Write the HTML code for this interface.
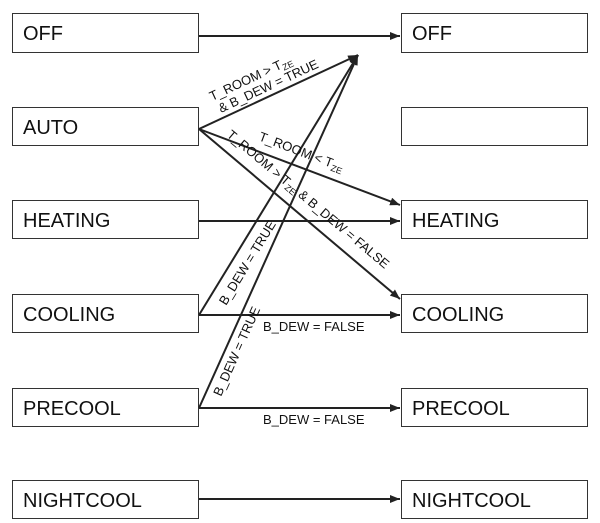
<!DOCTYPE html>
<html><head><style>body{margin:0;background:#fff}svg{display:block}</style></head><body>
<svg width="600" height="523" xmlns="http://www.w3.org/2000/svg" font-family="Liberation Sans, Arial, sans-serif">
<defs><marker id="a" markerWidth="10" markerHeight="8" refX="10" refY="4" orient="auto" markerUnits="userSpaceOnUse"><path d="M0,0 L10,4 L0,8 z" fill="#222"/></marker></defs>
<g fill="#fff" stroke="#333" stroke-width="1">
<rect x="12.5" y="13.5" width="186" height="39"/><rect x="401.5" y="13.5" width="186" height="39"/>
<rect x="12.5" y="107.5" width="186" height="38"/><rect x="401.5" y="107.5" width="186" height="38"/>
<rect x="12.5" y="200.5" width="186" height="38"/><rect x="401.5" y="200.5" width="186" height="38"/>
<rect x="12.5" y="294.5" width="186" height="38"/><rect x="401.5" y="294.5" width="186" height="38"/>
<rect x="12.5" y="388.5" width="186" height="38"/><rect x="401.5" y="388.5" width="186" height="38"/>
<rect x="12.5" y="480.5" width="186" height="38"/><rect x="401.5" y="480.5" width="186" height="38"/>
</g>
<g font-size="20" fill="#111">
<text x="23" y="40">OFF</text><text x="412" y="40">OFF</text>
<text x="23" y="134">AUTO</text>
<text x="23" y="227">HEATING</text><text x="412" y="227">HEATING</text>
<text x="23" y="321">COOLING</text><text x="412" y="321">COOLING</text>
<text x="23" y="415">PRECOOL</text><text x="412" y="415">PRECOOL</text>
<text x="23" y="507">NIGHTCOOL</text><text x="412" y="507">NIGHTCOOL</text>
</g>
<g stroke="#222" stroke-width="2" fill="none" marker-end="url(#a)">
<line x1="199" y1="36" x2="400" y2="36"/>
<line x1="199" y1="129" x2="358" y2="55"/>
<line x1="199" y1="129" x2="400" y2="205"/>
<line x1="199" y1="129" x2="400" y2="299"/>
<line x1="199" y1="221" x2="400" y2="221"/>
<line x1="199" y1="315" x2="400" y2="315"/>
<line x1="199" y1="315" x2="358" y2="55"/>
<line x1="199" y1="408" x2="358" y2="55"/>
<line x1="199" y1="408" x2="400" y2="408"/>
<line x1="199" y1="499" x2="400" y2="499"/>
</g>
<g font-size="13" fill="#111">
<text transform="translate(212,101) rotate(-25)">T_ROOM &gt; T<tspan font-size="9" dy="3">ZE</tspan></text>
<text transform="translate(221,113) rotate(-25)">&amp; B_DEW = TRUE</text>
<text transform="translate(258,140) rotate(20.7)">T_ROOM &lt; T<tspan font-size="9" dy="3">ZE</tspan></text>
<text transform="translate(226,136) rotate(40)">T_ROOM &gt; T<tspan font-size="9" dy="3">ZE</tspan><tspan dy="-3"> &amp; B_DEW = FALSE</tspan></text>
<text transform="translate(226,306) rotate(-58.5)">B_DEW = TRUE</text>
<text transform="translate(221,397) rotate(-65.8)">B_DEW = TRUE</text>
<text x="263" y="331">B_DEW = FALSE</text>
<text x="263" y="424">B_DEW = FALSE</text>
</g>
</svg>
</body></html>
